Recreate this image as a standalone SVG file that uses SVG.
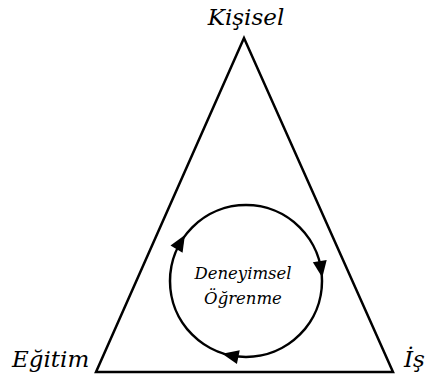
<svg xmlns="http://www.w3.org/2000/svg" width="425" height="380" viewBox="0 0 425 380">
<style>
.edge{fill:none;stroke:#000;stroke-width:2.5}
.lbl{font-family:"DejaVu Serif","Liberation Serif",serif;font-style:italic;fill:#000}
</style>
<defs>
<path id="ah" d="M8.5,0 L-8,-7 L-8,7 Z" fill="#000"/>
</defs>
<rect width="425" height="380" fill="#fff"/>
<g id="triangle">
<polygon class="edge" points="244,38 96,372 393,372" stroke-linejoin="miter"/>
</g>
<g id="kisisel"><text class="lbl" x="246" y="25" font-size="23" text-anchor="middle">Kişisel</text></g>
<g id="egitim"><text class="lbl" x="12" y="367" font-size="23">Eğitim</text></g>
<g id="is"><text class="lbl" x="404" y="367" font-size="23">İş</text></g>
<g id="cycle">
<circle class="edge" cx="246" cy="281" r="76"/>
<text class="lbl" x="243" y="279" font-size="16.5" text-anchor="middle">Deneyimsel</text>
<text class="lbl" x="243" y="304" font-size="16.5" text-anchor="middle">Öğrenme</text>
</g>
<g id="connectors">
<use href="#ah" transform="translate(180.6,242.3) rotate(300.6)"/>
<use href="#ah" transform="translate(321,269) rotate(81)"/>
<use href="#ah" transform="translate(230.5,355.5) rotate(191.6)"/>
</g>
</svg>
